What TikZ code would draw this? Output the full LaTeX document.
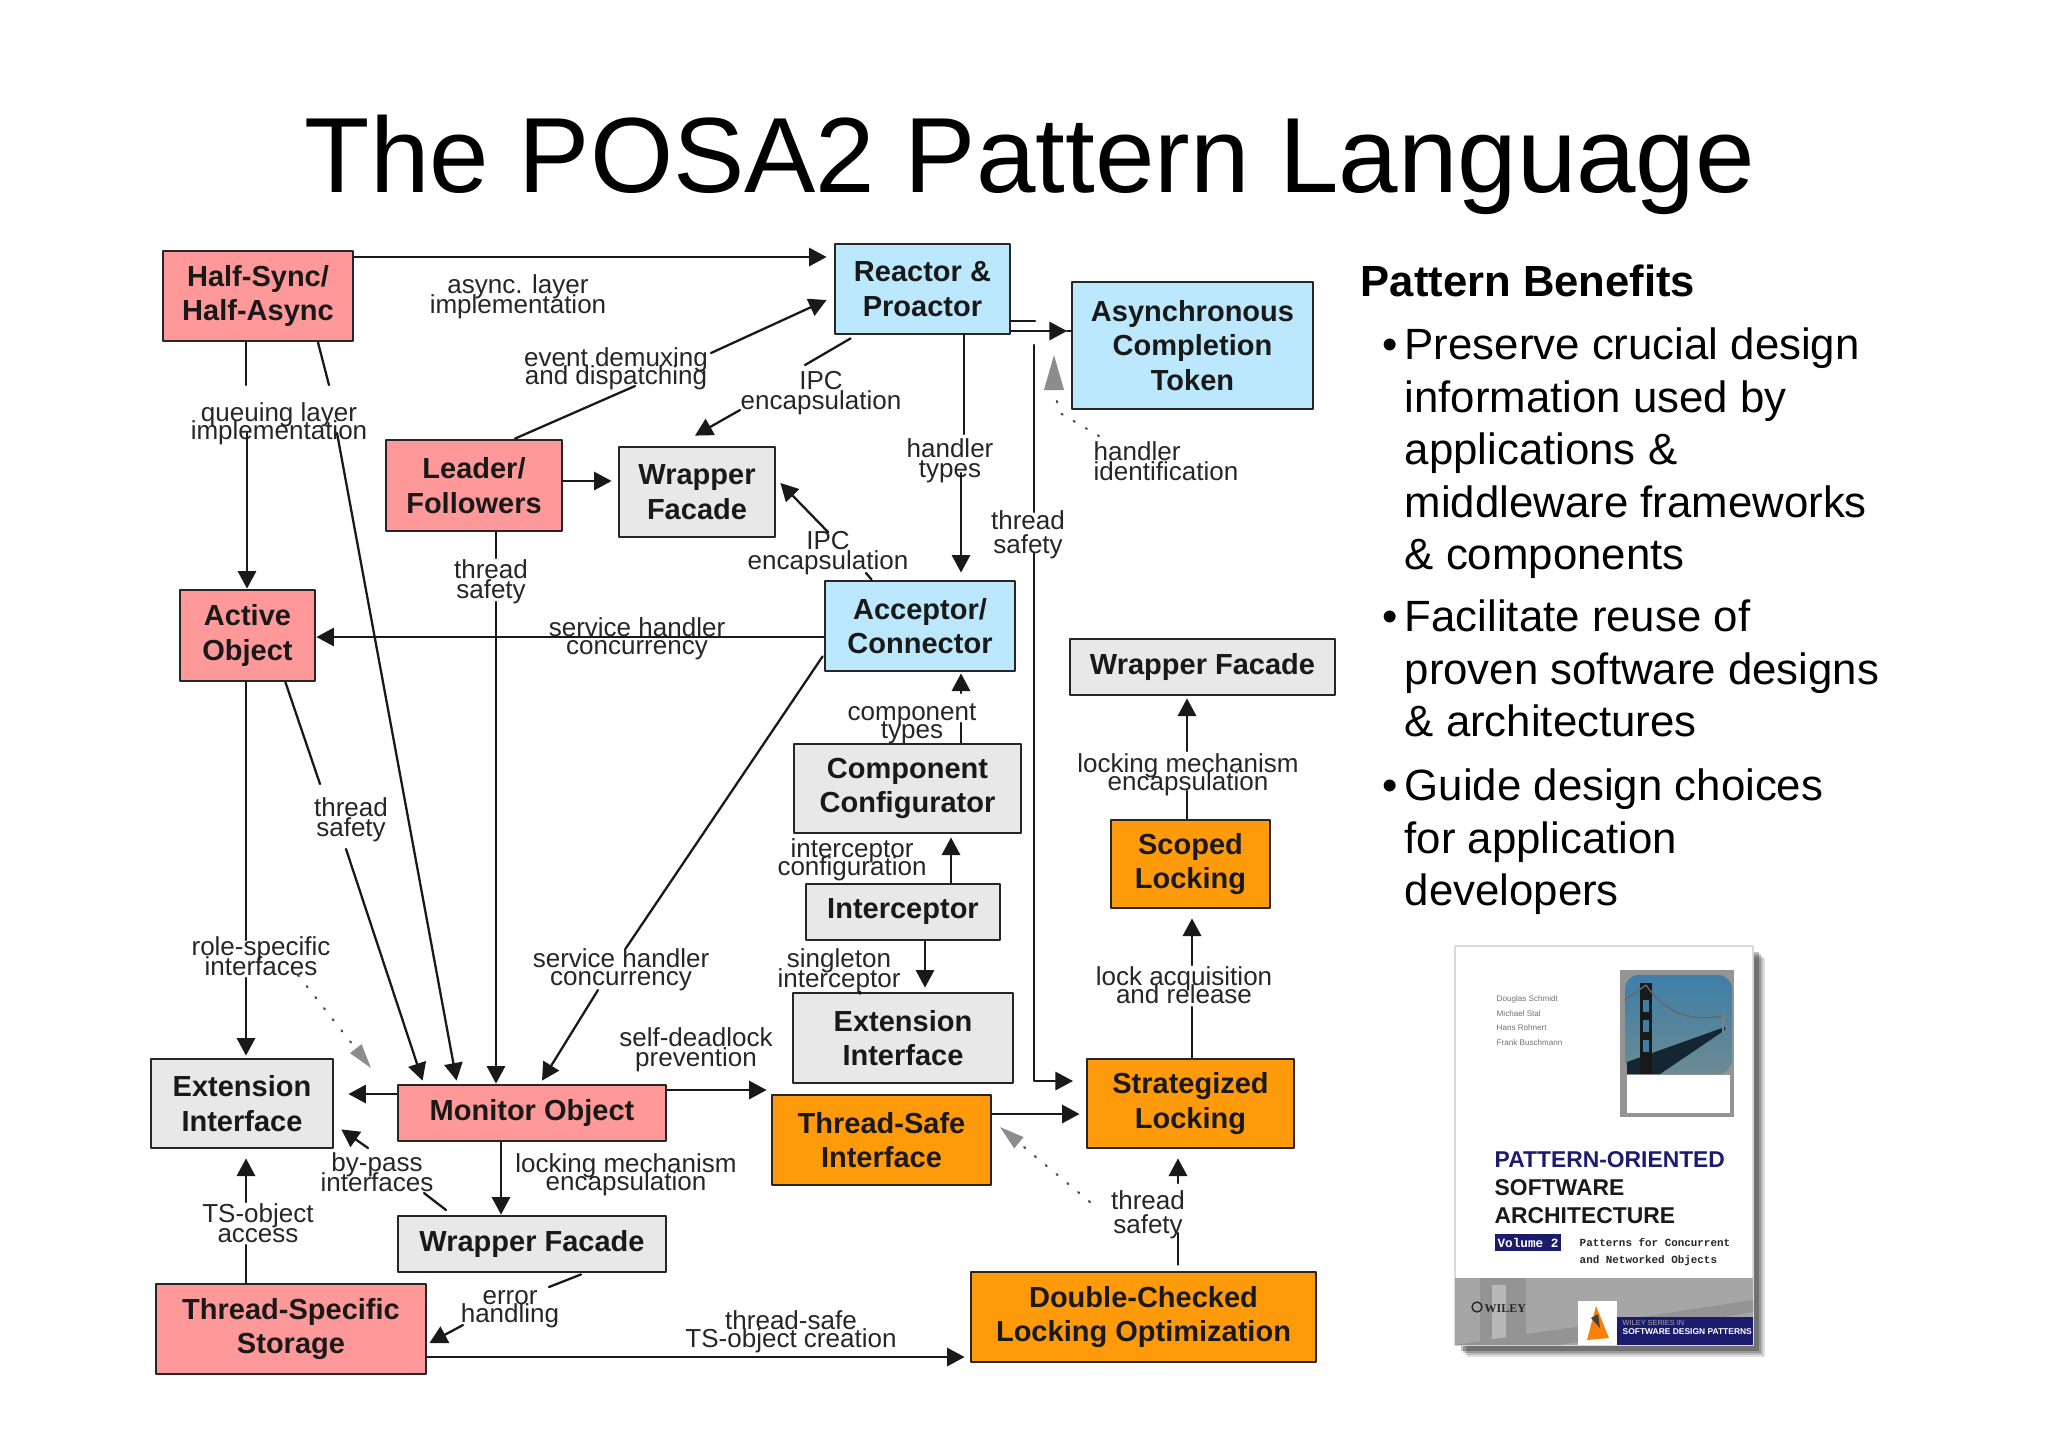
\documentclass[tikz,border=0pt]{standalone}
\usepackage{fontspec}
\setmainfont{Liberation Sans}
\newfontfamily\coverfont{Liberation Mono}
\newfontfamily\wileyfont{Liberation Serif}
\usetikzlibrary{arrows.meta,calc}
% labels have lines closer than their glyph heights
\lineskiplimit=-20pt
\normallineskiplimit=-20pt

\begin{document}
\begin{tikzpicture}[x=0.01cm,y=-0.01cm,line cap=round,line join=round,
  sz/.style 2 args={minimum width=#1*0.01cm,minimum height=#2*0.01cm},
  box/.style={draw=black!85,line width=0.8pt,inner sep=0pt,align=center,text=black!90,
    font=\fontsize{8.25}{9.8}\selectfont\bfseries},
  pinkbox/.style={box,fill=pinkc},
  bluebox/.style={box,fill=bluec},
  greybox/.style={box,fill=greyc},
  orangebox/.style={box,fill=orangec},
  lbl/.style={inner sep=0pt,align=center,text=black!85,font=\fontsize{7.4}{5.2}\selectfont},
  lblwide/.style={lbl,font=\fontsize{7.4}{5.7}\selectfont},
  lblfar/.style={lbl,font=\fontsize{7.4}{6.9}\selectfont},
  link/.style={line width=0.65pt,black!90},
  arr/.style={link,-{Triangle[length=5pt,width=5.2pt]}},
  stip/.style={line width=0.6pt,black!70,dash pattern=on 0.4pt off 3.6pt,
    -{Triangle[length=7pt,width=4pt,color=black!45,fill=black!45]}},
  bullet/.style={inner sep=0pt,anchor=base west,font=\fontsize{12.45}{15}\selectfont},
  body/.style={inner sep=0pt,anchor=north west,align=left,font=\fontsize{12.45}{14.95}\selectfont}]

\definecolor{pinkc}{HTML}{FF9999}
\definecolor{bluec}{HTML}{BBE8FC}
\definecolor{greyc}{HTML}{E8E8E8}
\definecolor{orangec}{HTML}{FF9A0A}
\definecolor{navyc}{HTML}{1C1C6E}
\definecolor{skya}{HTML}{3E7FA8}
\definecolor{skyb}{HTML}{B8CCD2}
\definecolor{skyc}{HTML}{6B8A92}

\useasboundingbox (0,0) rectangle (2048,1447);
\fill[white] (0,0) rectangle (2048,1447);

% title
\node[inner sep=0pt,anchor=base,font=\fontsize{30.4}{34}\selectfont] (title) at (1030,192) {The POSA2 Pattern Language};

% pattern boxes
\node[pinkbox,sz={190}{90}] (halfsync) at (258,296) {Half-Sync/\\Half-Async};
\node[pinkbox,sz={176}{91}] (leader) at (474,485.5) {Leader/\\Followers};
\node[pinkbox,sz={135}{91}] (active) at (247.5,635.5) {Active\\Object};
\node[pinkbox,sz={268}{56}] (monitor) at (532,1113) {Monitor Object};
\node[pinkbox,sz={270}{90}] (tss) at (291,1329) {Thread-Specific\\Storage};
\node[greybox,sz={156}{90}] (wfacade) at (697,492) {Wrapper\\Facade};
\node[greybox,sz={182}{89}] (extleft) at (242,1103.5) {Extension\\Interface};
\node[greybox,sz={268}{56}] (wflow) at (532,1244) {Wrapper Facade};
\node[greybox,sz={265}{56}] (wfright) at (1202.5,667) {Wrapper Facade};
\node[greybox,sz={227}{89}] (compconf) at (907.5,788.5) {Component\\Configurator};
\node[greybox,sz={194}{56}] (intercept) at (903,912) {Interceptor};
\node[greybox,sz={220}{90}] (extmid) at (903,1038) {Extension\\Interface};
\node[bluebox,sz={175}{90}] (reactor) at (922.5,289) {Reactor \&\\Proactor};
\node[bluebox,sz={241}{127}] (token) at (1192.5,345.5) {Asynchronous\\Completion\\Token};
\node[bluebox,sz={190}{90}] (acceptor) at (920,626) {Acceptor/\\Connector};
\node[orangebox,sz={159}{88}] (scoped) at (1190.5,864) {Scoped\\Locking};
\node[orangebox,sz={207}{89}] (strategy) at (1190.5,1103.5) {Strategized\\Locking};
\node[orangebox,sz={219}{90}] (tsafe) at (881.5,1140) {Thread-Safe\\Interface};
\node[orangebox,sz={345}{90}] (dclo) at (1143.5,1317) {Double-Checked\\Locking Optimization};

% connector labels
\node[lblwide] (lasync) at (518,297) {async. layer\\implementation};
\node[lbl] (lqueue) at (279,424) {queuing layer\\implementation};
\node[lbl] (ldemux) at (616,369) {event demuxing\\and dispatching};
\node[lblwide] (lipctop) at (821,393) {IPC\\encapsulation};
\node[lblwide] (lipcmid) at (828,553) {IPC\\encapsulation};
\node[lblwide] (lhtypes) at (950,461) {handler\\types};
\node[lblwide,align=left] (lhident) at (1166,461) {handler\\identification};
\node[lblwide] (ltsleader) at (491,582) {thread\\safety};
\node[lblfar] (ltsright) at (1028,535) {thread\\safety};
\node[lbl] (lconc) at (637,639) {service handler\\concurrency};
\node[lbl] (lcomp) at (912,724) {component\\types};
\node[lbl] (lconfig) at (852,860) {interceptor\\configuration};
\node[lblwide] (lsingle) at (839,971) {singleton\\interceptor};
\node[lbl] (llockup) at (1188,775) {locking mechanism\\encapsulation};
\node[lbl] (lacq) at (1184,985) {lock acquisition\\and release};
\node[lblwide] (ltsactive) at (351,820) {thread\\safety};
\node[lblwide] (lrole) at (261,956) {role-specific\\interfaces};
\node[lbl] (lconclow) at (621,970) {service handler\\concurrency};
\node[lblwide] (ldead) at (696,1050) {self-deadlock\\prevention};
\node[lblwide] (lpass) at (377,1172) {by-pass\\interfaces};
\node[lbl] (llocklow) at (626,1175) {locking mechanism\\encapsulation};
\node[lblwide] (ltsobj) at (258,1223) {TS-object\\access};
\node[lbl] (lerror) at (510,1309) {error\\handling};
\node[lbl] (lcreate) at (791,1332) {thread-safe\\TS-object creation};
\node[lblfar] (ltsdclo) at (1148,1215) {thread\\safety};

% free ends of the connectors, where they stop at a label
\coordinate (a) at (246,385);   \coordinate (b) at (247,433);
\coordinate (c) at (329,385);   \coordinate (d) at (337,433);
\coordinate (e) at (635,386);   \coordinate (f) at (711,353);
\coordinate (g) at (805,365);   \coordinate (h) at (740,410);
\coordinate (i) at (828,532);   \coordinate (j) at (866,573);
\coordinate (k) at (964,434);   \coordinate (l) at (961,473);
\coordinate (m) at (1034,345);  \coordinate (n) at (1034,512);
\coordinate (o) at (1034,553);  \coordinate (p) at (1073,1081);
\coordinate (q) at (496,558);   \coordinate (r) at (496,602);
\coordinate (s) at (246,940);   \coordinate (t) at (246,978);
\coordinate (u) at (320,784);   \coordinate (v) at (346,849);
\coordinate (w) at (626,948);   \coordinate (z) at (598,990);
\coordinate (aa) at (446,1210); \coordinate (ab) at (424,1193);
\coordinate (ac) at (368,1148); \coordinate (ad) at (246,1245);
\coordinate (ae) at (246,1202); \coordinate (af) at (549,1287);
\coordinate (ag) at (463,1325); \coordinate (ah) at (961,723);
\coordinate (ai) at (961,693);  \coordinate (aj) at (1187,791);
\coordinate (ak) at (1187,751); \coordinate (al) at (1192,1007);
\coordinate (am) at (1192,965); \coordinate (an) at (1178,1233);
\coordinate (ao) at (1178,1183);\coordinate (ap) at (1035,321);
\coordinate (aq) at (1067,331);

% top area
\draw[arr] (halfsync.east |- 0,257) -- ($(reactor.west |- 0,257)+(-7,0)$);
\draw[link] (a |- halfsync.south) -- (a);
\draw[arr] (b) -- (b |- active.north);
\draw[link] ($(halfsync.south)+(60,0)$) -- (c);
\draw[arr] (d) -- ($(monitor.north west)+(60,-3)$);
\draw[link] ($(leader.north)+(41,0)$) -- (e);
\draw[arr] (f) -- ($(reactor.west)+(-7,11)$);
\draw[arr] (leader.east |- 0,481) -- ($(wfacade.west |- 0,481)+(-6,0)$);
\draw[link] ($(reactor.south west)+(17,3)$) -- (g);
\draw[arr] (h) -- ($(wfacade.north)+(-2,-10)$);
\draw[link] ($(acceptor.north west)+(48,0)$) -- (j);
\draw[arr] (i) -- ($(wfacade.east)+(4,-9)$);
\draw[link] (k |- reactor.south) -- (k);
\draw[arr] (l) -- ($(l |- acceptor.north)+(0,-7)$);
\draw[link] (reactor.east |- ap) -- (ap);
\draw[arr] (reactor.east |- aq) -- (aq);
\draw[link] (aq) -- (token.west |- aq);
\draw[link] (m) -- (n);
\draw[arr] (o) -- (o |- p) -- (p);
\draw[stip,-{Triangle[length=10pt,width=5.6pt,color=black!45,fill=black!45]}] (1099,436) -- (1060,413) -- (1054,390) -- (1054,355);

% left column
\draw[arr] (acceptor.west |- 0,637) -- (active.east |- 0,637);
\draw[link] (q |- leader.south) -- (q);
\draw[arr] (r) -- (r |- monitor.north);
\draw[link] (s |- active.south) -- (s);
\draw[arr] (t) -- ($(t |- extleft.north)+(0,-2)$);
\draw[link] ($(active.south)+(38,0)$) -- (u);
\draw[arr] (v) -- ($(monitor.north west)+(26,-3)$);
\draw[link] ($(acceptor.south west)+(-1,-16)$) -- (w);
\draw[arr] (z) -- ($(monitor.north)+(10,-3)$);
\draw[stip] (298,975) -- (371,1068);

% bottom area
\draw[arr] (monitor.east |- 0,1090) -- ($(tsafe.west |- 0,1090)+(-4,0)$);
\draw[arr] (monitor.west |- 0,1094) -- ($(extleft.east |- 0,1094)+(14,0)$);
\draw[arr] (monitor.south -| 501,0) -- (wflow.north -| 501,0);
\draw[link] (aa) -- (ab);
\draw[arr] (ac) -- ($(extleft.south east)+(7,-20)$);
\draw[link] (ad |- tss.north) -- (ad);
\draw[arr] (ae) -- ($(ae |- extleft.south)+(0,9)$);
\draw[link] ($(wflow.south)+(49,1)$) -- (af);
\draw[arr] (ag) -- ($(tss.east)+(2,14)$);
\draw[arr] (tss.east |- 0,1357) -- ($(dclo.west |- 0,1357)+(-5,0)$);

% middle stack
\draw[link] (ah |- compconf.north) -- (ah);
\draw[arr] (ai) -- ($(ai |- acceptor.south)+(0,1)$);
\draw[arr] (intercept.north -| 951,0) -- ($(compconf.south -| 951,0)+(0,3)$);
\draw[arr] (intercept.south -| 925,0) -- ($(extmid.north -| 925,0)+(0,-4)$);
\draw[link] (extmid.north -| 860,0) -- ($(lsingle.south -| 860,0)$);

% locking column
\draw[arr] (tsafe.east |- 0,1114) -- ($(strategy.west |- 0,1114)+(-6,0)$);
\draw[link] (al |- strategy.north) -- (al);
\draw[arr] (am) -- ($(am |- scoped.south)+(0,9)$);
\draw[link] (aj |- scoped.north) -- (aj);
\draw[arr] (ak) -- ($(ak |- wfright.south)+(0,2)$);
\draw[link] ($(an |- dclo.north)+(0,-6)$) -- (an);
\draw[arr] (ao) -- ($(ao |- strategy.south)+(0,9)$);
\draw[stip] (1090,1202) -- (1000,1127);

% benefits text
\node[inner sep=0pt,anchor=base west,font=\fontsize{12.4}{15}\selectfont\bfseries] (benefits) at (1360,296) {Pattern Benefits};
\foreach \n/\y in {bulleta/359,bulletb/631,bulletc/800}{
  \node[bullet] (\n) at (1382,\y) {•};
}
\node[body] (pointa) at (1404,327) {Preserve crucial design\\information used by\\applications \&\\middleware frameworks\\\& components};
\node[body] (pointb) at (1404,599) {Facilitate reuse of\\proven software designs\\\& architectures};
\node[body] (pointc) at (1404,768) {Guide design choices\\for application\\developers};

% book cover, drawn directly
\foreach \s/\o in {12/0.12,10/0.15,8/0.2,6/0.25}{
  \fill[black,opacity=\o] (1455+\s,946+\s) rectangle (1753+\s,1345+\s);
}
\filldraw[fill=white,draw=black!15,line width=0.3pt] (1455,946) rectangle (1753,1345);
\fill[black!35] (1455,1278) rectangle (1753,1345);
\fill[black!42] (1480,1278) rectangle (1526,1345);
\fill[black!28] (1492,1285) rectangle (1506,1345);
\fill[black!42] (1455,1345) -- (1753,1300) -- (1753,1312) -- (1560,1345) -- cycle;
% cover photo
\fill[black!42] (1620,970) rectangle (1734,1117);
\fill[white] (1627,1075) rectangle (1730,1113);
\shade[top color=skya,middle color=skyb,bottom color=skyc,rounded corners=4pt] (1625,975) rectangle (1732,1074);
\fill[black!70!skya] (1627,1074) -- (1627,1062) -- (1725,1027) -- (1725,1030) -- (1660,1074) -- cycle;
\fill[black!90] (1640,983) rectangle (1652,1074);
\foreach \y in {1000,1020,1040}{
  \fill[skya] (1643,\y) rectangle (1649,\y+12);
}
\draw[black!60,line width=0.4pt] (1625,1000) -- (1646,985) .. controls (1670,1020) and (1700,1020) .. (1723,1016);
\draw[black!50,line width=0.8pt] (1723,1016) -- (1723,1033);
\foreach \t/\y in {Douglas Schmidt/999,Michael Stal/1014,Hans Rohnert/1028,Frank Buschmann/1043}{
  \node[inner sep=0pt,anchor=west,text=black!55,font=\fontsize{2.3}{3}\selectfont] at (1496,\y) {\t};
}
\node[inner sep=0pt,anchor=base west,text=navyc,font=\fontsize{6.5}{8}\selectfont\bfseries] (covera) at (1494,1167) {PATTERN-ORIENTED};
\node[inner sep=0pt,anchor=base west,text=black!90,font=\fontsize{6.5}{8}\selectfont\bfseries] (coverb) at (1494,1195) {SOFTWARE};
\node[inner sep=0pt,anchor=base west,text=black!90,font=\fontsize{6.5}{8}\selectfont\bfseries] (coverc) at (1494,1223) {ARCHITECTURE};
\node[fill=navyc,text=white,inner sep=0pt,minimum width=66*0.01cm,minimum height=17*0.01cm,font=\coverfont\fontsize{3.6}{4}\selectfont\bfseries] (coverv) at (1528,1242.5) {Volume 2};
\node[inner sep=0pt,anchor=base west,text=black!85,font=\coverfont\fontsize{3.1}{5}\selectfont\bfseries] (coverd) at (1579,1246) {Patterns for Concurrent};
\node[inner sep=0pt,anchor=base west,text=black!85,font=\coverfont\fontsize{3.1}{5}\selectfont\bfseries] (covere) at (1579,1263) {and Networked Objects};
\draw[black!85,line width=0.4pt] (1477,1307) circle (5);
\node[inner sep=0pt,anchor=base west,text=black!85,font=\wileyfont\fontsize{3.4}{5}\selectfont\bfseries] (coverw) at (1484,1312) {WILEY};
\fill[white] (1578,1301) rectangle (1617,1345);
\fill[orange!85!brown] (1596,1306) -- (1609,1338) -- (1587,1340) -- cycle;
\fill[black!75] (1591,1318) -- (1598,1314) -- (1600,1328) -- cycle;
\fill[navyc] (1617,1317) rectangle (1753,1345);
\node[inner sep=0pt,anchor=west,text=black!35!white,font=\fontsize{2.1}{3}\selectfont] (covers) at (1622,1323) {WILEY SERIES IN};
\node[inner sep=0pt,anchor=west,text=white,font=\fontsize{2.4}{3}\selectfont\bfseries] (covert) at (1622,1332) {SOFTWARE DESIGN PATTERNS};

\end{tikzpicture}
\end{document}
